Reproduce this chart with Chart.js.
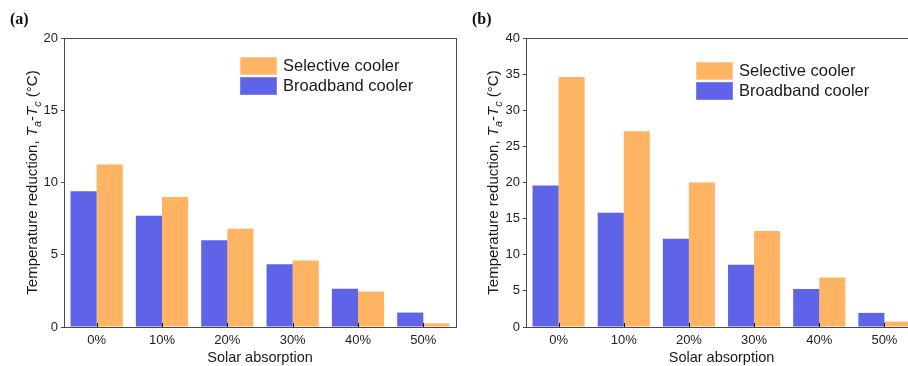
<!DOCTYPE html>
<html>
<head>
<meta charset="utf-8">
<script src="https://cdn.jsdelivr.net/npm/chart.js@4/dist/chart.umd.min.js"></script>
<style>
  html, body { margin: 0; padding: 0; background: #fff; overflow: hidden; width: 908px; height: 366px; }
  #wrap { position: relative; width: 908px; height: 366px; overflow: hidden; }
  canvas { position: absolute; top: 0; }
  #ca { left: 0; }
  #cb { left: 460px; }
</style>
</head>
<body>
<div id="wrap">
  <canvas id="ca" width="460" height="366"></canvas>
  <canvas id="cb" width="462" height="366"></canvas>
</div>
<script>
// ---- Data ----
const categories = ['0%', '10%', '20%', '30%', '40%', '50%'];
const seriesNames = ['Broadband cooler', 'Selective cooler'];
const broadbandA = [9.4, 7.7, 6.0, 4.35, 2.65, 1.0];
const selectiveA = [11.25, 9.0, 6.8, 4.6, 2.45, 0.25];
const broadbandB = [19.6, 15.8, 12.2, 8.6, 5.25, 1.95];
const selectiveB = [34.6, 27.1, 20.0, 13.3, 6.85, 0.75];
const yMaxA = 20, yMaxB = 40, yStep = 5;
const panelLabels = ['(a)', '(b)'];
const xTitle = 'Solar absorption';

const BLUE = '#5F63E8', BLUE_EDGE = '#7d81f0';
const ORANGE = '#FFB463', ORANGE_EDGE = '#ffc98f';
const FONT = "'Liberation Sans', Arial, sans-serif";
const AXIS = '#4a4a4a';

function panelPlugin(cfg) {
  return {
    id: 'panel' + cfg.label,
    afterDraw(chart) {
      const ctx = chart.ctx;
      const a = chart.chartArea;
      ctx.save();
      // inward x ticks at category centers
      const xs = chart.scales.x;
      ctx.strokeStyle = '#111';
      ctx.lineWidth = 1;
      for (let i = 0; i < xs.ticks.length; i++) {
        const px = Math.round(xs.getPixelForTick(i)) + 0.5;
        ctx.beginPath();
        ctx.moveTo(px, a.bottom);
        ctx.lineTo(px, a.bottom - 4);
        ctx.stroke();
      }
      // box
      ctx.strokeStyle = AXIS;
      ctx.lineWidth = 1;
      ctx.strokeRect(Math.round(a.left) + 0.5, Math.round(a.top) + 0.5,
                     Math.round(a.right - a.left), Math.round(a.bottom - a.top));
      // legend (reverse order)
      const ds = chart.data.datasets.slice().reverse();
      let ly = a.top + cfg.legTop;
      const lx = a.left + cfg.legLeft;
      ctx.font = '16.5px ' + FONT;
      ctx.textBaseline = 'middle';
      ctx.textAlign = 'left';
      ds.forEach(d => {
        ctx.fillStyle = d.backgroundColor;
        ctx.fillRect(lx, ly, 37, 18);
        ctx.strokeStyle = d.borderColor;
        ctx.strokeRect(lx + 0.5, ly + 0.5, 36, 17);
        ctx.fillStyle = '#1a1a1a';
        ctx.fillText(d.label, lx + 43, ly + 9.5);
        ly += 20;
      });
      // panel label
      ctx.font = 'bold 16px "Liberation Serif", "Times New Roman", serif';
      ctx.fillStyle = '#111';
      ctx.textBaseline = 'alphabetic';
      ctx.fillText(cfg.label, cfg.labelX, 24);
      // y title with italic and subscripts
      const segs = [
        { t: 'Temperature reduction, ', f: '15px ' + FONT, dy: 0 },
        { t: 'T', f: 'italic 15px ' + FONT, dy: 0 },
        { t: 'a', f: 'italic 11px ' + FONT, dy: 3.5 },
        { t: '-', f: '15px ' + FONT, dy: 0 },
        { t: 'T', f: 'italic 15px ' + FONT, dy: 0 },
        { t: 'c', f: 'italic 11px ' + FONT, dy: 3.5 },
        { t: ' (\u00B0C)', f: '15px ' + FONT, dy: 0 }
      ];
      let total = 0;
      segs.forEach(s => { ctx.font = s.f; s.w = ctx.measureText(s.t).width; total += s.w; });
      const cy = (a.top + a.bottom) / 2;
      ctx.translate(cfg.titleX, cy);
      ctx.rotate(-Math.PI / 2);
      ctx.textBaseline = 'alphabetic';
      ctx.fillStyle = '#1a1a1a';
      let u = -total / 2;
      segs.forEach(s => {
        ctx.font = s.f;
        ctx.fillText(s.t, u, s.dy);
        u += s.w;
      });
      ctx.restore();
    }
  };
}

function makeChart(id, blue, orange, yMax, cfg) {
  return new Chart(document.getElementById(id), {
    type: 'bar',
    data: {
      labels: categories,
      datasets: [
        { label: seriesNames[0], data: blue, backgroundColor: BLUE, borderColor: BLUE_EDGE, borderWidth: 0 },
        { label: seriesNames[1], data: orange, backgroundColor: ORANGE, borderColor: ORANGE_EDGE, borderWidth: 0 }
      ]
    },
    options: {
      responsive: false,
      animation: false,
      devicePixelRatio: 1,
      layout: { padding: { left: 0, right: cfg.padRight, top: 38, bottom: 0 } },
      datasets: { bar: { categoryPercentage: 0.8, barPercentage: 1.0 } },
      plugins: { legend: { display: false }, tooltip: { enabled: false } },
      scales: {
        x: {
          grid: { display: false, drawTicks: false },
          border: { display: false },
          ticks: { color: '#222', font: { family: FONT, size: 13 }, padding: 6, maxRotation: 0 },
          title: { display: true, text: xTitle, color: '#1a1a1a', font: { family: FONT, size: 14.5 }, padding: { top: 0, bottom: -1 } },
          afterFit(s) { s.height = 39; }
        },
        y: {
          min: 0, max: yMax,
          grid: { drawOnChartArea: false, drawTicks: true, tickLength: 3, color: AXIS },
          border: { display: false },
          ticks: { stepSize: yStep, color: '#222', font: { family: FONT, size: 13 }, padding: 3 },
          afterFit(s) { s.width = cfg.yWidth; }
        }
      }
    },
    plugins: [panelPlugin(cfg)]
  });
}

makeChart('ca', broadbandA, selectiveA, yMaxA,
  { label: panelLabels[0], labelX: 10, titleX: 37, yWidth: 64, padRight: 4, legLeft: 176, legTop: 19 });
makeChart('cb', broadbandB, selectiveB, yMaxB,
  { label: panelLabels[1], labelX: 12, titleX: 38, yWidth: 66, padRight: 5, legLeft: 170, legTop: 24 });
</script>
</body>
</html>
